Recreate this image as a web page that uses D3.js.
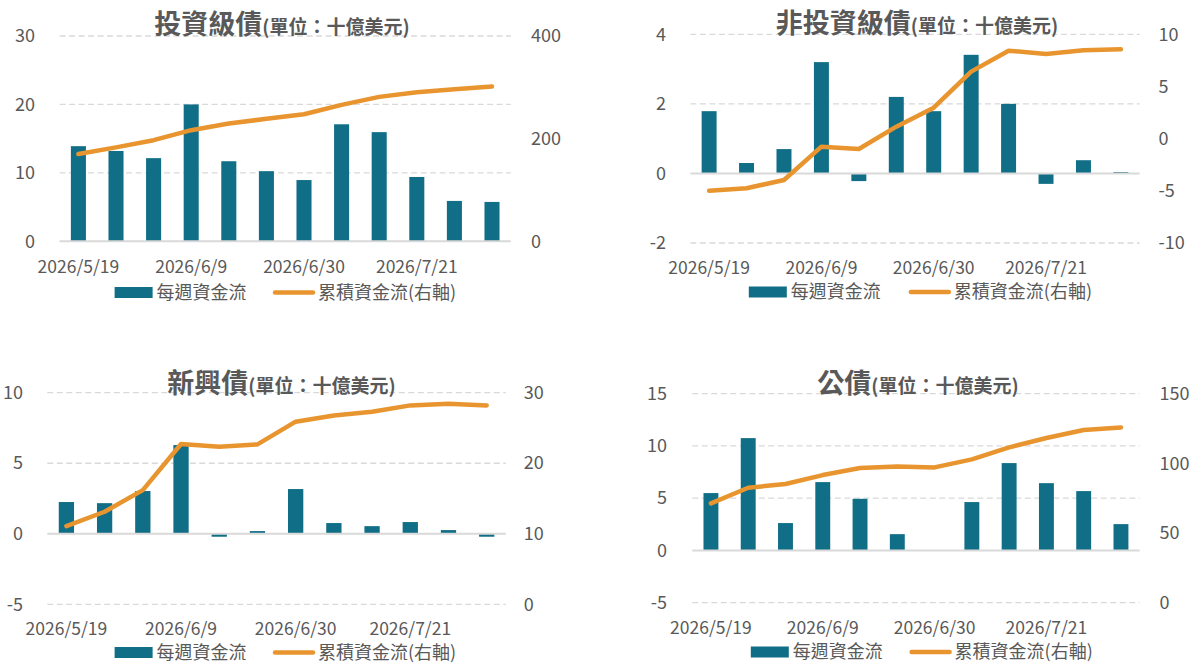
<!DOCTYPE html>
<html>
<head>
<meta charset="utf-8">
<script src="https://cdn.jsdelivr.net/npm/d3@7"></script>
<style>
  body { margin: 0; background: #fff; }
  svg { display: block; font-family: "Noto Sans CJK TC", "Noto Sans", sans-serif; }
</style>
</head>
<body>
<div id="chart"></div>
<script>
// weekly dates shared by all four panels
const dates = ["2026/5/19", "2026/5/26", "2026/6/2", "2026/6/9", "2026/6/16", "2026/6/23",
  "2026/6/30", "2026/7/7", "2026/7/14", "2026/7/21", "2026/7/28", "2026/8/4"];
const shownDates = ["2026/5/19", "2026/6/9", "2026/6/30", "2026/7/21"];

// 投資級債
const igWeekly = [13.9, 13.2, 12.15, 20.0, 11.7, 10.25, 8.95, 17.1, 15.95, 9.4, 5.9, 5.75];
const igCum = [170, 183, 197, 216.5, 229.5, 238.6, 247.6, 265.8, 281.4, 290.4, 296.3, 301.5];
const igLeftTicks = [0, 10, 20, 30];
const igRightTicks = [0, 200, 400];

// 非投資級債
const hyWeekly = [1.79, 0.30, 0.70, 3.20, -0.22, 2.20, 1.79, 3.41, 2.0, -0.30, 0.38, 0.04];
const hyCum = [-5.0, -4.76, -3.96, -0.77, -0.99, 1.15, 2.97, 6.42, 8.43, 8.11, 8.47, 8.56];
const hyLeftTicks = [-2, 0, 2, 4];
const hyRightTicks = [-10, -5, 0, 5, 10];

// 新興債
const emWeekly = [2.25, 2.17, 3.03, 6.29, -0.21, 0.19, 3.17, 0.76, 0.54, 0.83, 0.26, -0.21];
const emCum = [11.09, 13.12, 16.19, 22.72, 22.34, 22.67, 25.89, 26.78, 27.30, 28.20, 28.44, 28.20];
const emLeftTicks = [-5, 0, 5, 10];
const emRightTicks = [0, 10, 20, 30];

// 公債
const govWeekly = [5.49, 10.75, 2.62, 6.54, 4.94, 1.56, null, 4.63, 8.36, 6.44, 5.68, 2.52];
const govCum = [71.3, 82.5, 85.2, 91.6, 96.7, 97.8, 97.1, 102.9, 111.5, 118.2, 123.9, 125.8];
const govLeftTicks = [-5, 0, 5, 10, 15];
const govRightTicks = [0, 50, 100, 150];

const barColor = "#106e86";
const lineColor = "#e8952f";
const textColor = "#595959";
const gridColor = "#d9d9d9";

const svg = d3.select("#chart").append("svg")
  .attr("width", 1200)
  .attr("height", 666);

const panels = [
  { title: "投資級債", weekly: igWeekly, cum: igCum, lt: igLeftTicks, rt: igRightTicks,
    x0: 59.6, x1: 510.8, yTop: 36, yBot: 241.3, leftX: 35, rightX: 531,
    titleX: 282, titleY: 34, labelY: 267, legY: 292.5, legBar: 114.6, legLine: 273 },
  { title: "非投資級債", weekly: hyWeekly, cum: hyCum, lt: hyLeftTicks, rt: hyRightTicks,
    x0: 690.4, x1: 1139.6, yTop: 34.3, yBot: 243, leftX: 666, rightX: 1158.5,
    titleX: 917, titleY: 33, labelY: 268, legY: 292, legBar: 748.8, legLine: 908.8 },
  { title: "新興債", weekly: emWeekly, cum: emCum, lt: emLeftTicks, rt: emRightTicks,
    x0: 47.3, x1: 505.8, yTop: 392.7, yBot: 604.3, leftX: 23, rightX: 523.8,
    titleX: 281.5, titleY: 393, labelY: 629, legY: 652.5, legBar: 114.6, legLine: 273 },
  { title: "公債", weekly: govWeekly, cum: govCum, lt: govLeftTicks, rt: govRightTicks,
    x0: 692.3, x1: 1139.6, yTop: 393.7, yBot: 602.7, leftX: 667, rightX: 1159.6,
    titleX: 918, titleY: 393, labelY: 627.5, legY: 652, legBar: 750.8, legLine: 909.6 }
];

panels.forEach(p => {
  const g = svg.append("g");

  const x = d3.scaleBand()
    .domain(dates)
    .range([p.x0, p.x1])
    .paddingInner(0.6)
    .paddingOuter(0.3);

  const yL = d3.scaleLinear()
    .domain(d3.extent(p.lt))
    .range([p.yBot, p.yTop]);

  const yR = d3.scaleLinear()
    .domain(d3.extent(p.rt))
    .range([p.yBot, p.yTop]);

  // dashed gridlines at the left-axis ticks, solid at zero
  g.selectAll(".grid")
    .data(p.lt.filter(d => d !== 0))
    .enter()
    .append("line")
    .attr("x1", p.x0)
    .attr("x2", p.x1)
    .attr("y1", d => yL(d))
    .attr("y2", d => yL(d))
    .attr("stroke", gridColor)
    .attr("stroke-width", 1.3)
    .attr("stroke-dasharray", "6,3.5");

  // bars
  g.selectAll(".bar")
    .data(dates.map((d, i) => ({ date: d, v: p.weekly[i] })).filter(d => d.v !== null))
    .enter()
    .append("rect")
    .attr("x", d => x(d.date))
    .attr("width", x.bandwidth())
    .attr("y", d => yL(Math.max(0, d.v)))
    .attr("height", d => Math.abs(yL(d.v) - yL(0)))
    .attr("fill", barColor);

  g.append("line")
    .attr("x1", p.x0)
    .attr("x2", p.x1)
    .attr("y1", yL(0))
    .attr("y2", yL(0))
    .attr("stroke", gridColor)
    .attr("stroke-width", 2);

  // cumulative line on the right axis
  const line = d3.line()
    .x((d, i) => x(dates[i]) + x.bandwidth() / 2)
    .y(d => yR(d));

  g.append("path")
    .datum(p.cum)
    .attr("d", line)
    .attr("fill", "none")
    .attr("stroke", lineColor)
    .attr("stroke-width", 4.5)
    .attr("stroke-linecap", "round")
    .attr("stroke-linejoin", "round");

  // axes
  const fmt = d => String(d);

  const leftAxis = g.append("g")
    .attr("transform", "translate(" + p.leftX + ",0)")
    .call(d3.axisLeft(yL).tickValues(p.lt).tickFormat(fmt).tickSize(0).tickPadding(0));

  const rightAxis = g.append("g")
    .attr("transform", "translate(" + p.rightX + ",0)")
    .call(d3.axisRight(yR).tickValues(p.rt).tickFormat(fmt).tickSize(0).tickPadding(0));

  const bottomAxis = g.append("g")
    .attr("transform", "translate(0," + p.labelY + ")")
    .call(d3.axisBottom(x).tickValues(shownDates).tickSize(0).tickPadding(0));

  [leftAxis, rightAxis, bottomAxis].forEach(a => {
    a.select(".domain").remove();
    a.selectAll("text")
      .attr("fill", textColor)
      .style("font-size", "18px")
      .style("font-family", "'Noto Sans CJK TC', sans-serif");
  });
  bottomAxis.selectAll("text").attr("y", 0).attr("dy", "0.35em").style("font-size", "17.5px");

  // title
  const t = g.append("text")
    .attr("x", p.titleX)
    .attr("y", p.titleY)
    .attr("text-anchor", "middle")
    .attr("fill", textColor)
    .style("font-weight", "bold");
  t.append("tspan").style("font-size", "27px").text(p.title);
  t.append("tspan").style("font-size", "19px").text("(單位：十億美元)");

  // legend
  g.append("rect")
    .attr("x", p.legBar)
    .attr("y", p.legY - 5.5)
    .attr("width", 38)
    .attr("height", 11)
    .attr("fill", barColor);
  g.append("text")
    .attr("x", p.legBar + 42)
    .attr("y", p.legY)
    .attr("dy", "0.35em")
    .attr("fill", textColor)
    .style("font-size", "18px")
    .text("每週資金流");
  g.append("line")
    .attr("x1", p.legLine + 2)
    .attr("x2", p.legLine + 40)
    .attr("y1", p.legY)
    .attr("y2", p.legY)
    .attr("stroke", lineColor)
    .attr("stroke-width", 4.5)
    .attr("stroke-linecap", "round");
  g.append("text")
    .attr("x", p.legLine + 45)
    .attr("y", p.legY)
    .attr("dy", "0.35em")
    .attr("fill", textColor)
    .style("font-size", "18px")
    .text("累積資金流(右軸)");
});
</script>
</body>
</html>
